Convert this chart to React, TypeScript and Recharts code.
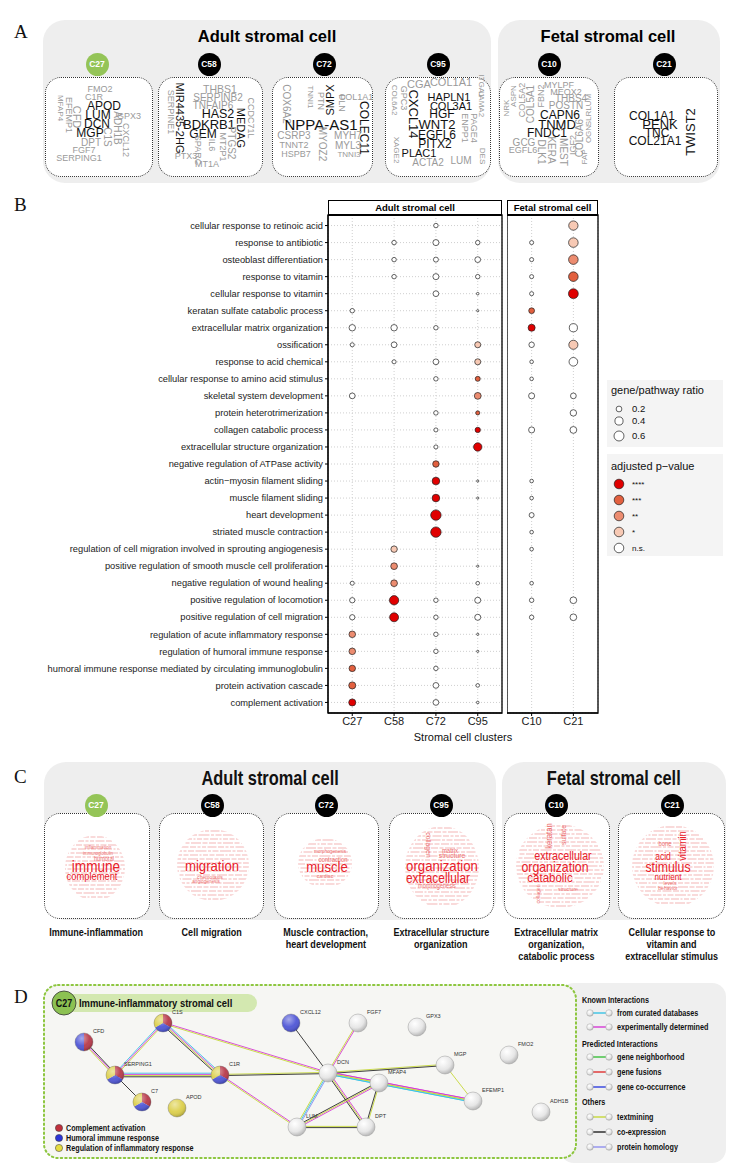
import React from 'react'
import { ScatterChart, Scatter, XAxis, YAxis, CartesianGrid, ReferenceArea } from 'recharts'

// ---- Panel B data ----
const terms = [
  'cellular response to retinoic acid',
  'response to antibiotic',
  'osteoblast differentiation',
  'response to vitamin',
  'cellular response to vitamin',
  'keratan sulfate catabolic process',
  'extracellular matrix organization',
  'ossification',
  'response to acid chemical',
  'cellular response to amino acid stimulus',
  'skeletal system development',
  'protein heterotrimerization',
  'collagen catabolic process',
  'extracellular structure organization',
  'negative regulation of ATPase activity',
  'actin\u2212myosin filament sliding',
  'muscle filament sliding',
  'heart development',
  'striated muscle contraction',
  'regulation of cell migration involved in sprouting angiogenesis',
  'positive regulation of smooth muscle cell proliferation',
  'negative regulation of wound healing',
  'positive regulation of locomotion',
  'positive regulation of cell migration',
  'regulation of acute inflammatory response',
  'regulation of humoral immune response',
  'humoral immune response mediated by circulating immunoglobulin',
  'protein activation cascade',
  'complement activation',
]

const adultClusters = ['C27', 'C58', 'C72', 'C95']
const fetalClusters = ['C10', 'C21']

const _ = null
// gene/pathway ratio per term (null = not enriched)
const ratioC27 = [_, _, _, _, _, 0.12, 0.25, 0.1, _, _, 0.2, _, _, _, _, _, _, _, _, _, _, 0.1, 0.17, 0.17, 0.26, 0.26, 0.25, 0.3, 0.3]
const ratioC58 = [_, 0.12, 0.12, 0.12, _, _, 0.25, 0.2, 0.1, _, _, _, _, _, _, _, _, _, _, 0.25, 0.27, 0.27, 0.52, 0.48, _, _, _, _, _]
const ratioC72 = [0.12, 0.22, 0.15, 0.22, 0.2, _, 0.12, _, 0.2, 0.12, _, 0.12, 0.1, 0.1, 0.25, 0.35, 0.35, 0.65, 0.65, _, _, _, 0.12, 0.12, 0.12, 0.12, 0.12, 0.2, 0.2]
const ratioC95 = [_, 0.12, 0.2, 0.12, 0.04, 0.03, _, 0.22, 0.22, 0.15, 0.28, 0.1, 0.17, 0.42, _, 0.03, 0.03, _, _, _, 0.03, 0.08, 0.22, 0.22, 0.03, 0.03, _, 0.08, 0.04]
const ratioC10 = [_, 0.1, 0.1, 0.1, 0.1, 0.2, 0.3, 0.18, 0.08, 0.08, 0.22, _, 0.22, _, _, 0.08, 0.08, 0.15, 0.08, 0.08, _, 0.08, 0.12, 0.12, _, _, _, _, _]
const ratioC21 = [0.52, 0.55, 0.55, 0.55, 0.58, _, 0.4, 0.5, 0.45, _, 0.2, 0.25, 0.28, _, _, _, _, _, _, _, _, _, 0.27, 0.27, _, _, _, _, _]

// adjusted p-value as number of stars (0 = n.s.)
const sigC27 = [0, 0, 0, 0, 0, 0, 0, 0, 0, 0, 0, 0, 0, 0, 0, 0, 0, 0, 0, 0, 0, 0, 0, 0, 2, 2, 3, 3, 4]
const sigC58 = [0, 0, 0, 0, 0, 0, 0, 0, 0, 0, 0, 0, 0, 0, 0, 0, 0, 0, 0, 1, 2, 2, 4, 4, 0, 0, 0, 0, 0]
const sigC72 = [0, 0, 0, 0, 0, 0, 0, 0, 0, 0, 0, 0, 0, 0, 3, 4, 4, 4, 4, 0, 0, 0, 0, 0, 0, 0, 0, 0, 0]
const sigC95 = [0, 0, 0, 0, 0, 0, 0, 1, 1, 3, 2, 3, 4, 4, 0, 0, 0, 0, 0, 0, 0, 0, 0, 0, 0, 0, 0, 0, 0]
const sigC10 = [0, 0, 0, 0, 0, 3, 4, 0, 0, 0, 0, 0, 0, 0, 0, 0, 0, 0, 0, 0, 0, 0, 0, 0, 0, 0, 0, 0, 0]
const sigC21 = [1, 1, 2, 3, 4, 0, 0, 1, 0, 0, 0, 0, 0, 0, 0, 0, 0, 0, 0, 0, 0, 0, 0, 0, 0, 0, 0, 0, 0]

const ratioLegend = [0.2, 0.4, 0.6]
const sigLegend = ['****', '***', '**', '*', 'n.s.']

const SIG_FILL = ['#ffffff', '#f7c9b4', '#ec8c70', '#e2603f', '#e00000']
const rowTicks = terms.map((_t, i) => i)
const rOf = (ratio: number) => 6.45 * Math.sqrt(ratio)

const SANS = '"Liberation Sans", Arial, sans-serif'
const SERIF = '"Liberation Serif", "Times New Roman", serif'

function buildPoints(ratios: (number | null)[][], sigs: number[][]) {
  const pts: { x: number; y: number; ratio: number; sig: number }[] = []
  ratios.forEach((arr, ci) =>
    arr.forEach((r, i) => {
      if (r != null) pts.push({ x: ci, y: i, ratio: r, sig: sigs[ci][i] })
    })
  )
  return pts
}

const Dot = (p: any) => {
  const { cx, cy, payload } = p
  if (cx == null || cy == null) return <g />
  return (
    <circle cx={cx} cy={cy} r={rOf(payload.ratio)} fill={SIG_FILL[payload.sig]} stroke="#1f1f1f" strokeWidth={0.7} />
  )
}

// plain <text> so long GO terms never wrap
const TermTick = (p: any) => {
  const { x, y, payload } = p
  return (
    <text x={x} y={y} dy={3.2} textAnchor="end" fontSize={9.3} fill="#222" fontFamily={SANS}>
      {terms[payload.value]}
    </text>
  )
}

interface PanelProps {
  clusters: string[]
  ratios: (number | null)[][]
  sigs: number[][]
  left: number
  width: number
  pad: number
  yAxisWidth: number
  showY: boolean
}

function DotPanel({ clusters, ratios, sigs, left, width, pad, yAxisWidth, showY }: PanelProps) {
  const pts = buildPoints(ratios, sigs)
  const n = clusters.length
  const xMin = -pad
  const xMax = n - 1 + pad
  return (
    <div style={{ position: 'absolute', left, top: 195 }}>
      <ScatterChart width={width} height={545} margin={{ top: 20, right: 3, bottom: 2, left: 0 }}>
        <CartesianGrid stroke="#cfcfcf" strokeDasharray="1 2" />
        <XAxis
          type="number"
          dataKey="x"
          domain={[xMin, xMax]}
          allowDataOverflow
          ticks={clusters.map((_c, i) => i)}
          interval={0}
          tickFormatter={(v: number) => clusters[v] ?? ''}
          height={25}
          tickSize={3}
          tickMargin={1}
          stroke="#000"
          tick={{ fontSize: 11, fill: '#1a1a1a', fontFamily: SANS }}
        />
        <YAxis
          type="number"
          dataKey="y"
          reversed
          domain={[-0.62, 28.62]}
          allowDataOverflow
          ticks={rowTicks}
          interval={0}
          width={yAxisWidth}
          tickSize={showY ? 3 : 0}
          tickMargin={2}
          tickLine={showY}
          axisLine={showY}
          stroke="#000"
          tick={showY ? TermTick : false}
        />
        <ReferenceArea x1={xMin} x2={xMax} y1={-0.62} y2={28.62} fill="none" stroke="#000" strokeWidth={1.3} ifOverflow="visible" />
        <Scatter data={pts} isAnimationActive={false} shape={Dot} />
      </ScatterChart>
    </div>
  )
}

// ---- Panel A word clouds (decoration) ----
type W = [string, number, number, number, number, number?]
const wordsA: W[] = [
  ['FMO2', 100, 89, 9, 0], ['C1R', 94, 97, 9, 0], ['APOD', 104, 106, 12, 1], ['LUM', 98, 115, 12, 1], ['DCN', 97, 124, 12, 1],
  ['MGP', 90, 133, 12, 1], ['GPX3', 129, 116, 9, 0], ['CFD', 76, 117, 11, 0, 90], ['EFEMP1', 68, 115, 9, 0, 90], ['MFAP4', 60, 108, 8, 0, 90],
  ['ADH1B', 117, 128, 10, 0, 90], ['C1S', 107, 137, 10, 0, 90], ['CXCL12', 125, 140, 9, 0, 90], ['DPT', 91, 143, 10, 0], ['FGF7', 84, 150, 9, 0],
  ['SERPING1', 79, 158, 9, 0],
  ['THBS1', 220, 89, 10.5, 0], ['SERPINB2', 218, 98, 10, 0], ['TNFAIP6', 213, 106, 10, 0], ['HAS2', 218, 114, 12.5, 1], ['BDKRB1', 209, 124, 13, 1],
  ['GEM', 203, 134, 12, 1], ['MIR4435-2HG', 179, 118, 11, 1, 90], ['SERPINE1', 170, 112, 9, 0, 90], ['MEDAG', 240, 128, 11, 1, 90],
  ['CCDC71L', 250, 118, 9, 0, 90], ['PTGS2', 231, 143, 10, 0, 90], ['MT2P1', 222, 147, 9, 0, 90], ['IL6', 211, 145, 9, 0, 90],
  ['SPARC', 197, 150, 9, 0, 90], ['PTX3', 186, 156, 9, 0], ['MT1A', 207, 164, 9, 0],
  ['COX6A2', 286, 104, 10, 0, 90], ['TNNI1', 310, 97, 8, 0, 90], ['PTN', 320, 101, 9, 0, 90], ['SMPX', 330, 100, 11, 1, -90], ['PLN', 341, 103, 9, 0, 90],
  ['COL1A1', 356, 97, 9, 0], ['NPPA-AS1', 321, 124, 15, 1], ['COLEC11', 364, 128, 12, 1, 90], ['CSRP3', 294, 136, 10, 0], ['MYH7', 348, 136, 10, 0],
  ['TNNT2', 294, 145, 9, 0], ['MYL3', 348, 146, 10, 0], ['HSPB7', 296, 154, 9, 0], ['TNNI3', 349, 155, 8, 0], ['MYOZ2', 322, 144, 10, 0, 90],
  ['CGA', 419, 84, 11, 0], ['COL1A1', 451, 82, 11, 0], ['HAPLN1', 449, 97, 11, 1], ['COL3A1', 451, 106, 11, 1], ['HGF', 442, 114, 12, 1],
  ['WNT2', 437, 124, 13, 1], ['EGFL6', 437, 135, 12, 1], ['PITX2', 435, 144, 12, 1], ['PLAC1', 419, 153, 11, 1], ['CXCL14', 413, 114, 13, 1, 90],
  ['ACTA2', 428, 163, 10, 0], ['LUM', 461, 161, 10, 0], ['ITGA1', 481, 86, 8, 0, 90], ['LAMA2', 481, 104, 8, 0, 90], ['PAGE4', 473, 128, 9, 0, 90],
  ['ENPP1', 464, 128, 9, 0, 90], ['GPC3', 403, 98, 9, 0, 90], ['COL6A2', 394, 100, 8, 0, 90], ['XAGE2', 396, 150, 8, 0, 90], ['DES', 482, 156, 8, 0, 90],
  ['MYLPF', 559, 85, 9, 0], ['MEOX2', 566, 92, 9, 0], ['THBS4', 571, 99, 10, 0], ['POSTN', 566, 106, 10, 0], ['CAPN6', 560, 115, 12, 1],
  ['TNMD', 557, 124, 13, 1], ['FNDC1', 547, 133, 12, 1], ['GCG', 524, 143, 10, 0], ['EGFL6', 523, 150, 9, 0], ['NRK', 507, 108, 8, 0, -90],
  ['ASPN', 514, 96, 8, 0, -90], ['COL5A2', 522, 100, 9, 0, -90], ['COL5A1', 531, 104, 10, 0, -90], ['FBN2', 541, 96, 9, 0, -90],
  ['DLK1', 541, 152, 10, 0, 90], ['KERA', 551, 150, 10, 0, 90], ['MEST', 563, 152, 10, 0, 90], ['IGF2', 573, 145, 9, 0, -90],
  ['COL6A6', 580, 138, 10, 0, -90], ['OGN', 589, 134, 8, 0, -90], ['SLRLUM', 589, 110, 8, 0, -90], ['FAP', 585, 157, 8, 0, -90],
  ['COL1A1', 652, 116, 12, 1], ['PENK', 660, 124, 13, 1], ['TNC', 657, 133, 12, 1], ['COL21A1', 655, 141, 12, 1], ['TWIST2', 690, 132, 13, 1, -90],
]

const badgeX = [97, 209, 324, 438, 549, 664]
const boxesA: [number, number][] = [[45, 153], [158, 263], [272, 373], [385, 491], [499, 599], [614, 718]]
const badgeXC = [96, 212, 326, 441, 556, 672]
const boxesC: [number, number][] = [[44, 150], [159, 264], [274, 379], [389, 494], [504, 610], [618, 725]]
const clusterOrder = ['C27', 'C58', 'C72', 'C95', 'C10', 'C21']

// ---- Panel C word clouds (decoration) ----
type CW = [string, number, number, number, number, number?]
const wordsC: CW[] = [
  ['inflammation', 98, 848, 5.5, 1], ['immunoglobulin', 98, 853, 5, 1], ['humoral', 104, 858.5, 6.5, 1], ['immune', 96, 867, 16, 2], ['complement', 92, 876, 11, 2],
  ['migration', 212, 866, 15.5, 2], ['chemotaxis', 210, 876.5, 6, 1], ['angiogenesis', 206, 882, 5.5, 1],
  ['morphogenesis', 330, 852, 5.5, 1], ['contraction', 333, 859, 7, 1], ['muscle', 327, 867, 15.5, 2], ['cardiac', 325, 875.5, 6, 1],
  ['collagen', 428, 845, 8, 1, 90], ['matrix', 450, 850, 7, 1], ['structure', 452, 856, 8, 1], ['organization', 442, 866, 15.5, 2],
  ['extracellular', 438, 878, 14, 2], ['morphogenesis', 437, 886, 6.5, 1],
  ['keratan', 549, 836, 9, 1, -90], ['sulfate', 564, 835, 8, 1, -90], ['extracellular', 563, 856, 12.5, 2], ['organization', 555, 866.5, 14.5, 2],
  ['catabolic', 550, 877.5, 13.5, 2], ['structure', 568, 889, 6, 1], ['collagen', 538, 894, 6, 1, -90],
  ['bone', 665, 843, 7, 1], ['vitamin', 682, 846, 11, 2, -90], ['acid', 663, 857, 10, 2], ['stimulus', 668, 867, 14.5, 2],
  ['nutrient', 668, 876.5, 9.5, 2], ['levels', 670, 883, 6, 1], ['behavior', 668, 888, 6, 1],
]
const blobsC: [number, number, number, number][] = [
  [95, 868, 60, 66], [213, 865, 72, 72], [325, 863, 54, 50], [442, 867, 74, 82], [560, 866, 88, 84], [673, 866, 82, 82],
]
const captionsC = [
  ['Immune-inflammation'],
  ['Cell migration'],
  ['Muscle contraction,', 'heart development'],
  ['Extracellular structure', 'organization'],
  ['Extracellular matrix', 'organization,', 'catabolic process'],
  ['Cellular response to', 'vitamin and', 'extracellular stimulus'],
]
const DASHES = ['7 1.5 4 1.5 10 1.5 5 1.5', '4 1.5 9 1.5 6 1.5 3 1.5', '11 1.5 3 1.5 6 1.5', '5 1.5 5 1.5 8 1.5 2 1.5']

// ---- Panel D network (decoration) ----
const nodesD: [string, number, number, string][] = [
  ['CFD', 84, 1042, 'rb'], ['C1S', 163, 1023, 'rby'], ['SERPING1', 115, 1075, 'rby'], ['C1R', 220, 1075, 'rby'], ['C7', 142, 1102, 'rby'],
  ['APOD', 177, 1108, 'y'], ['CXCL12', 291, 1023, 'b'], ['FGF7', 358, 1023, ''], ['GPX3', 417, 1027, ''], ['DCN', 328, 1073, ''],
  ['MGP', 445, 1065, ''], ['MFAP4', 379, 1083, ''], ['EFEMP1', 473, 1101, ''], ['FMO2', 509, 1055, ''], ['ADH1B', 541, 1112, ''],
  ['LUM', 297, 1127, ''], ['DPT', 366, 1127, ''],
]
const edgesD: [string, string, string][] = [
  ['CFD', 'SERPING1', 'kmt'], ['SERPING1', 'C1S', 'cmt'], ['C1S', 'C1R', 'cmtk'], ['SERPING1', 'C1R', 'cmtk'], ['SERPING1', 'C7', 'k'],
  ['C1S', 'DCN', 'mt'], ['C1R', 'DCN', 'tk'], ['C1R', 'LUM', 'mt'], ['CXCL12', 'DCN', 'k'], ['FGF7', 'DCN', 'mt'], ['DCN', 'MGP', 'tk'],
  ['DCN', 'MFAP4', 'mtc'], ['DCN', 'LUM', 'hct'], ['DCN', 'DPT', 'mtk'], ['DCN', 'EFEMP1', 'mtc'], ['MFAP4', 'EFEMP1', 'mtc'],
  ['MGP', 'EFEMP1', 't'], ['MFAP4', 'LUM', 'mtk'], ['MFAP4', 'DPT', 'tk'], ['LUM', 'DPT', 'tk'],
]
const EDGE_COL: Record<string, string> = { c: '#39c3e6', m: '#d63ad6', t: '#c6d83a', k: '#2a2a2a', h: '#8a8af0' }
const PIE_COL: Record<string, string> = { r: '#b83a4a', b: '#4f56d6', y: '#dccf4a' }
const legendD: [string, string | null, number][] = [
  ['Known Interactions', null, 1000], ['from curated databases', '#39c3e6', 1013], ['experimentally determined', '#d63ad6', 1027],
  ['Predicted Interactions', null, 1044], ['gene neighborhood', '#3cc03c', 1057], ['gene fusions', '#e03030', 1072],
  ['gene co-occurrence', '#3040e0', 1087], ['Others', null, 1102], ['textmining', '#c6d83a', 1117], ['co-expression', '#222', 1132],
  ['protein homology', '#9090f0', 1147],
]
const groupLegendD: [string, string][] = [
  ['Complement activation', '#c0303c'], ['Humoral immune response', '#2c34d8'], ['Regulation of inflammatory response', '#e6dc40'],
]

// narrow bold look: plain sans squeezed horizontally
function Narrow({ children, size, sx = 0.82, weight = 700, color = '#111' }: any) {
  return (
    <div style={{ whiteSpace: 'nowrap', fontSize: size, fontWeight: weight, color, transform: `scaleX(${sx})`, lineHeight: 1.15 }}>{children}</div>
  )
}

function Badge({ x, y, label, green }: { x: number; y: number; label: string; green: boolean }) {
  return (
    <div
      style={{
        position: 'absolute', left: x - 11.5, top: y - 11.5, width: 23, height: 23, borderRadius: '50%',
        background: green ? '#94c457' : '#000', color: '#fff', fontWeight: 700, fontSize: 8.5, display: 'flex',
        alignItems: 'center', justifyContent: 'center', fontFamily: SANS, zIndex: 4,
      }}
    >
      {label}
    </div>
  )
}

function Word({ w, fam }: { w: [string, number, number, number, number, number?]; fam: string }) {
  const [t, x, y, s, tone, rot] = w
  const color = fam === 'A' ? (tone ? '#111' : '#9a9a9a') : tone === 2 ? '#e8202a' : '#ec6f6f'
  const sx = fam === 'A' ? 1 : 0.85
  return (
    <span
      style={{
        position: 'absolute', left: x, top: y, fontSize: s, color, whiteSpace: 'nowrap', lineHeight: 1,
        transform: `translate(-50%, -50%)${rot ? ` rotate(${rot}deg)` : ''} scaleX(${sx})`, fontFamily: SANS,
        zIndex: 3,
      }}
    >
      {t}
    </span>
  )
}

function Blob({ cx, cy, w, h, id }: { cx: number; cy: number; w: number; h: number; id: number }) {
  const rows = Math.floor(h / 4)
  return (
    <svg style={{ position: 'absolute', left: cx - w / 2, top: cy - h / 2, zIndex: 2 }} width={w} height={h}>
      <defs>
        <clipPath id={`blob${id}`}>
          <ellipse cx={w / 2} cy={h / 2} rx={w / 2} ry={h / 2} />
        </clipPath>
      </defs>
      <g clipPath={`url(#blob${id})`}>
        {Array.from({ length: rows }, (_v, k) => (
          <line key={k} x1={(k % 3) * -3} y1={k * 4 + 2} x2={w} y2={k * 4 + 2} stroke="#f9dada" strokeWidth={1.8} strokeDasharray={DASHES[(k + id) % 4]} />
        ))}
      </g>
    </svg>
  )
}

function NetworkD() {
  const pos: Record<string, [number, number]> = {}
  nodesD.forEach(([n, x, y]) => (pos[n] = [x, y]))
  const slicePath = (cx: number, cy: number, r: number, a0: number, a1: number) => {
    const p0 = [cx + r * Math.cos(a0), cy + r * Math.sin(a0)]
    const p1 = [cx + r * Math.cos(a1), cy + r * Math.sin(a1)]
    const large = a1 - a0 > Math.PI ? 1 : 0
    return `M${cx},${cy} L${p0[0]},${p0[1]} A${r},${r} 0 ${large} 1 ${p1[0]},${p1[1]} Z`
  }
  const NF = SANS
  return (
    <svg style={{ position: 'absolute', left: 0, top: 975 }} width={736} height={199} viewBox="0 975 736 199">
      <defs>
        <radialGradient id="nodeG" cx="0.38" cy="0.32" r="0.75">
          <stop offset="0" stopColor="#ffffff" />
          <stop offset="0.6" stopColor="#e6e6e6" />
          <stop offset="1" stopColor="#ababab" />
        </radialGradient>
        <radialGradient id="glossG" cx="0.38" cy="0.3" r="0.7">
          <stop offset="0" stopColor="#fff" stopOpacity={0.5} />
          <stop offset="0.6" stopColor="#fff" stopOpacity={0.05} />
          <stop offset="1" stopColor="#000" stopOpacity={0.2} />
        </radialGradient>
      </defs>
      <rect x={560} y={983} width={166} height={180} rx={14} fill="#efefef" />
      <rect x={44} y={985} width={532} height={173} rx={14} fill="#f6f6f3" stroke="#8dc63f" strokeWidth={2} strokeDasharray="1.5 3" strokeLinecap="round" />
      <rect x={64} y={994} width={193} height={18} rx={9} fill="#d3e8b0" />
      <circle cx={64} cy={1003} r={12} fill="#8cc152" stroke="#333" strokeWidth={0.8} />
      <g transform="translate(64 1007) scale(0.85 1)">
        <text x={0} y={0} textAnchor="middle" fontSize={10.5} fontWeight={700} fill="#111" fontFamily={NF}>C27</text>
      </g>
      <g transform="translate(79 1007) scale(0.82 1)">
        <text x={0} y={0} fontSize={11.5} fontWeight={700} fill="#111" fontFamily={NF}>Immune-inflammatory stromal cell</text>
      </g>
      {edgesD.map(([a, b, types], i) => {
        const [x1, y1] = pos[a]
        const [x2, y2] = pos[b]
        const len = Math.hypot(x2 - x1, y2 - y1)
        const nx = -(y2 - y1) / len
        const ny = (x2 - x1) / len
        return (
          <g key={i}>
            {types.split('').map((t, k) => {
              const o = (k - (types.length - 1) / 2) * 1.2
              return <line key={k} x1={x1 + nx * o} y1={y1 + ny * o} x2={x2 + nx * o} y2={y2 + ny * o} stroke={EDGE_COL[t]} strokeWidth={0.9} />
            })}
          </g>
        )
      })}
      {nodesD.map(([n, x, y, sl]) => {
        const r = 9
        return (
          <g key={n}>
            {sl.length === 0 && <circle cx={x} cy={y} r={r} fill="url(#nodeG)" stroke="#9a9a9a" strokeWidth={0.5} />}
            {sl.length === 1 && <circle cx={x} cy={y} r={r} fill={PIE_COL[sl]} />}
            {sl.length > 1 &&
              sl.split('').map((c, k) => {
                const a0 = -Math.PI / 2 + (k * 2 * Math.PI) / sl.length
                const a1 = a0 + (2 * Math.PI) / sl.length
                return <path key={k} d={slicePath(x, y, r, a0, a1)} fill={PIE_COL[c]} />
              })}
            {sl.length > 0 && <circle cx={x} cy={y} r={r} fill="url(#glossG)" stroke="#777" strokeWidth={0.4} />}
            <text x={x + 9} y={y - 9} fontSize={5.5} fill="#333" fontFamily={NF}>{n}</text>
          </g>
        )
      })}
      {groupLegendD.map(([t, c], i) => (
        <g key={t}>
          <circle cx={59} cy={1128 + i * 10} r={3.6} fill={c} stroke="#333" strokeWidth={0.5} />
          <g transform={`translate(66 ${1131 + i * 10}) scale(0.85 1)`}>
            <text x={0} y={0} fontSize={8.5} fontWeight={700} fill="#111" fontFamily={NF}>{t}</text>
          </g>
        </g>
      ))}
      {legendD.map(([t, c, y]) =>
        c == null ? (
          <g key={t} transform={`translate(582 ${y + 3}) scale(0.85 1)`}>
            <text x={0} y={0} fontSize={8.5} fontWeight={700} fill="#111" fontFamily={NF}>{t}</text>
          </g>
        ) : (
          <g key={t}>
            <line x1={590} y1={y} x2={609} y2={y} stroke={c} strokeWidth={1.4} />
            <circle cx={590} cy={y} r={3.3} fill="url(#nodeG)" stroke="#999" strokeWidth={0.4} />
            <circle cx={609} cy={y} r={3.3} fill="url(#nodeG)" stroke="#999" strokeWidth={0.4} />
            <g transform={`translate(617 ${y + 3}) scale(0.85 1)`}>
              <text x={0} y={0} fontSize={8.5} fontWeight={700} fill="#111" fontFamily={NF}>{t}</text>
            </g>
          </g>
        )
      )}
    </svg>
  )
}

function PanelLabel({ t, y }: { t: string; y: number }) {
  return (
    <div style={{ position: 'absolute', left: 14, top: y - 11, fontFamily: SERIF, fontSize: 19, lineHeight: 1, color: '#111' }}>{t}</div>
  )
}

export default function App() {
  return (
    <div style={{ position: 'absolute', left: 0, top: 0, width: 736, height: 1174, background: '#fff', overflow: 'hidden', fontFamily: SANS }}>
      {/* Panel A */}
      <PanelLabel t="A" y={33} />
      <div style={{ position: 'absolute', left: 43, top: 20, width: 448, height: 163, borderRadius: 22, background: '#eeeeee' }} />
      <div style={{ position: 'absolute', left: 498, top: 20, width: 222, height: 163, borderRadius: 22, background: '#eeeeee' }} />
      <div style={{ position: 'absolute', left: 43, width: 448, top: 27, textAlign: 'center', fontWeight: 700, fontSize: 16.5 }}>Adult stromal cell</div>
      <div style={{ position: 'absolute', left: 498, width: 220, top: 27, textAlign: 'center', fontWeight: 700, fontSize: 16.5 }}>Fetal stromal cell</div>
      {boxesA.map(([l, r], i) => (
        <div key={i} style={{ position: 'absolute', left: l, top: 77, width: r - l, height: 100, boxSizing: 'border-box', border: '1.3px dotted #333', borderRadius: 16, background: '#fff' }} />
      ))}
      {badgeX.map((x, i) => <Badge key={i} x={x} y={64} label={clusterOrder[i]} green={i === 0} />)}
      {wordsA.map((w, i) => <Word key={i} w={w} fam="A" />)}

      {/* Panel B */}
      <PanelLabel t="B" y={206} />
      <DotPanel clusters={adultClusters} ratios={[ratioC27, ratioC58, ratioC72, ratioC95]} sigs={[sigC27, sigC58, sigC72, sigC95]} left={0} width={505} pad={0.58} yAxisWidth={328} showY />
      <DotPanel clusters={fetalClusters} ratios={[ratioC10, ratioC21]} sigs={[sigC10, sigC21]} left={507} width={94} pad={0.59} yAxisWidth={0} showY={false} />
      <div style={{ position: 'absolute', left: 328, top: 200, width: 174, height: 16, boxSizing: 'border-box', border: '1.2px solid #000', borderBottomWidth: 2, background: '#fff', textAlign: 'center', fontWeight: 700, fontSize: 9.5, lineHeight: '13px' }}>Adult stromal cell</div>
      <div style={{ position: 'absolute', left: 507, top: 200, width: 91, height: 16, boxSizing: 'border-box', border: '1.2px solid #000', borderBottomWidth: 2, background: '#fff', textAlign: 'center', fontWeight: 700, fontSize: 9.5, lineHeight: '13px' }}>Fetal stromal cell</div>
      <div style={{ position: 'absolute', left: 328, width: 270, top: 731, textAlign: 'center', fontSize: 11, color: '#111' }}>Stromal cell clusters</div>
      <svg style={{ position: 'absolute', left: 600, top: 375 }} width={136} height={185} viewBox="600 375 136 185">
        <rect x={607} y={380} width={116} height={67} fill="#f4f4f4" />
        <rect x={607} y={454} width={116} height={102} fill="#f4f4f4" />
        <text x={611} y={394} fontSize={11} fill="#111" fontFamily={SANS}>gene/pathway ratio</text>
        {ratioLegend.map((v, i) => (
          <g key={v}>
            <circle cx={619} cy={[409, 421, 436][i]} r={rOf(v)} fill="#fff" stroke="#1f1f1f" strokeWidth={0.7} />
            <text x={632} y={[409, 421, 436][i] + 3.3} fontSize={9.5} fill="#111" fontFamily={SANS}>{v}</text>
          </g>
        ))}
        <text x={611} y={470} fontSize={11} fill="#111" fontFamily={SANS}>{'adjusted p\u2212value'}</text>
        {sigLegend.map((s, i) => (
          <g key={s}>
            <circle cx={619} cy={484 + i * 16} r={4.8} fill={SIG_FILL[4 - i]} stroke="#1f1f1f" strokeWidth={0.7} />
            <text x={632} y={484 + i * 16 + 3} fontSize={8} fill="#111" fontFamily={SANS}>{s}</text>
          </g>
        ))}
      </svg>

      {/* Panel C */}
      <PanelLabel t="C" y={778} />
      <div style={{ position: 'absolute', left: 44, top: 762, width: 452, height: 158, borderRadius: 22, background: '#eeeeee' }} />
      <div style={{ position: 'absolute', left: 502, top: 762, width: 224, height: 158, borderRadius: 22, background: '#eeeeee' }} />
      <div style={{ position: 'absolute', left: 44, width: 452, top: 766, display: 'flex', justifyContent: 'center' }}>
        <Narrow size={21} sx={0.78}>Adult stromal cell</Narrow>
      </div>
      <div style={{ position: 'absolute', left: 502, width: 224, top: 766, display: 'flex', justifyContent: 'center' }}>
        <Narrow size={21} sx={0.78}>Fetal stromal cell</Narrow>
      </div>
      {boxesC.map(([l, r], i) => (
        <div key={i} style={{ position: 'absolute', left: l, top: 813, width: r - l, height: 106, boxSizing: 'border-box', border: '1.3px dotted #333', borderRadius: 16, background: '#fff' }} />
      ))}
      {blobsC.map(([cx, cy, w, h], i) => <Blob key={i} cx={cx} cy={cy} w={w} h={h} id={i} />)}
      {badgeXC.map((x, i) => <Badge key={i} x={x} y={805} label={clusterOrder[i]} green={i === 0} />)}
      {wordsC.map((w, i) => <Word key={i} w={w} fam="C" />)}
      {captionsC.map((lines, i) => (
        <div key={i} style={{ position: 'absolute', left: badgeXC[i] - 70, width: 140, top: 926, display: 'flex', flexDirection: 'column', alignItems: 'center' }}>
          {lines.map((l, k) => (
            <div key={k} style={{ height: 12 }}>
              <Narrow size={11} sx={0.82}>{l}</Narrow>
            </div>
          ))}
        </div>
      ))}

      {/* Panel D */}
      <PanelLabel t="D" y={998} />
      <NetworkD />
    </div>
  )
}
